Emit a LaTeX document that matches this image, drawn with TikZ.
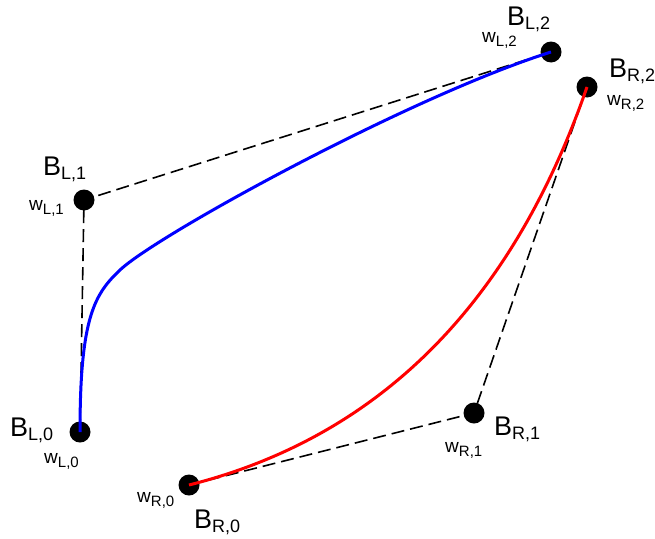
\documentclass[tikz,border=0pt]{standalone}
\usepackage{fontspec}
\setmainfont{Liberation Sans}
\usetikzlibrary{calc}
\newcommand{\bsub}[1]{B{\fontsize{18}{18}\selectfont\raisebox{-4pt}{#1}}}
\newcommand{\wsub}[1]{w{\fontsize{15}{15}\selectfont\raisebox{-4pt}{#1}}}

\begin{document}
\begin{tikzpicture}[
    x=1pt, y=-1pt,
    dot/.style={circle, fill=black, minimum size=21pt, inner sep=0pt},
    hull/.style={dash pattern=on 13pt off 6pt, line width=1.6pt},
    bezier/.style={line width=3pt},
    bname/.style={anchor=base west, inner sep=0pt, font=\fontsize{27}{27}\selectfont},
    wname/.style={anchor=base west, inner sep=0pt, font=\fontsize{19}{19}\selectfont}
]
\useasboundingbox (0,0) rectangle (655,538);

% control points
\node[dot] (BL0) at (80,432) {};
\node[dot] (BL1) at (84,200) {};
\node[dot] (BL2) at (551,52) {};
\node[dot] (BR0) at (189,485) {};
\node[dot] (BR1) at (474,413) {};
\node[dot] (BR2) at (587,87) {};
\coordinate (BLbend) at (120,270);

% control polygons
\draw[hull] (BL0.center) -- (BL1.center) -- (BL2.center);
\draw[hull] (BR0.center) -- (BR1.center) -- (BR2.center);

% left curve (weighted), right curve (plain quadratic)
\draw[bezier, blue] (BL0.center) .. controls +(0,-115) and +(-25.4,24.1) .. (BLbend)
    .. controls +(36.3,-34.5) and +(-143,45.3) .. (BL2.center);
\draw[bezier, red] (BR0.center) .. controls ($(BR0.center)!0.667!(BR1.center)$) and ($(BR2.center)!0.667!(BR1.center)$) .. (BR2.center);

% labels
\node[bname] (nBL0) at (10,436) {\bsub{L,0}};
\node[wname] (nwL0) at (44,463) {\wsub{L,0}};
\node[bname] (nBL1) at (43,175) {\bsub{L,1}};
\node[wname] (nwL1) at (29,210) {\wsub{L,1}};
\node[bname] (nBL2) at (507,25) {\bsub{L,2}};
\node[wname] (nwL2) at (482,42) {\wsub{L,2}};
\node[bname] (nBR0) at (194,528) {\bsub{R,0}};
\node[wname] (nwR0) at (137,502) {\wsub{R,0}};
\node[bname] (nBR1) at (494,435) {\bsub{R,1}};
\node[wname] (nwR1) at (445,452) {\wsub{R,1}};
\node[bname] (nBR2) at (609,77) {\bsub{R,2}};
\node[wname] (nwR2) at (607,105) {\wsub{R,2}};

\end{tikzpicture}
\end{document}
